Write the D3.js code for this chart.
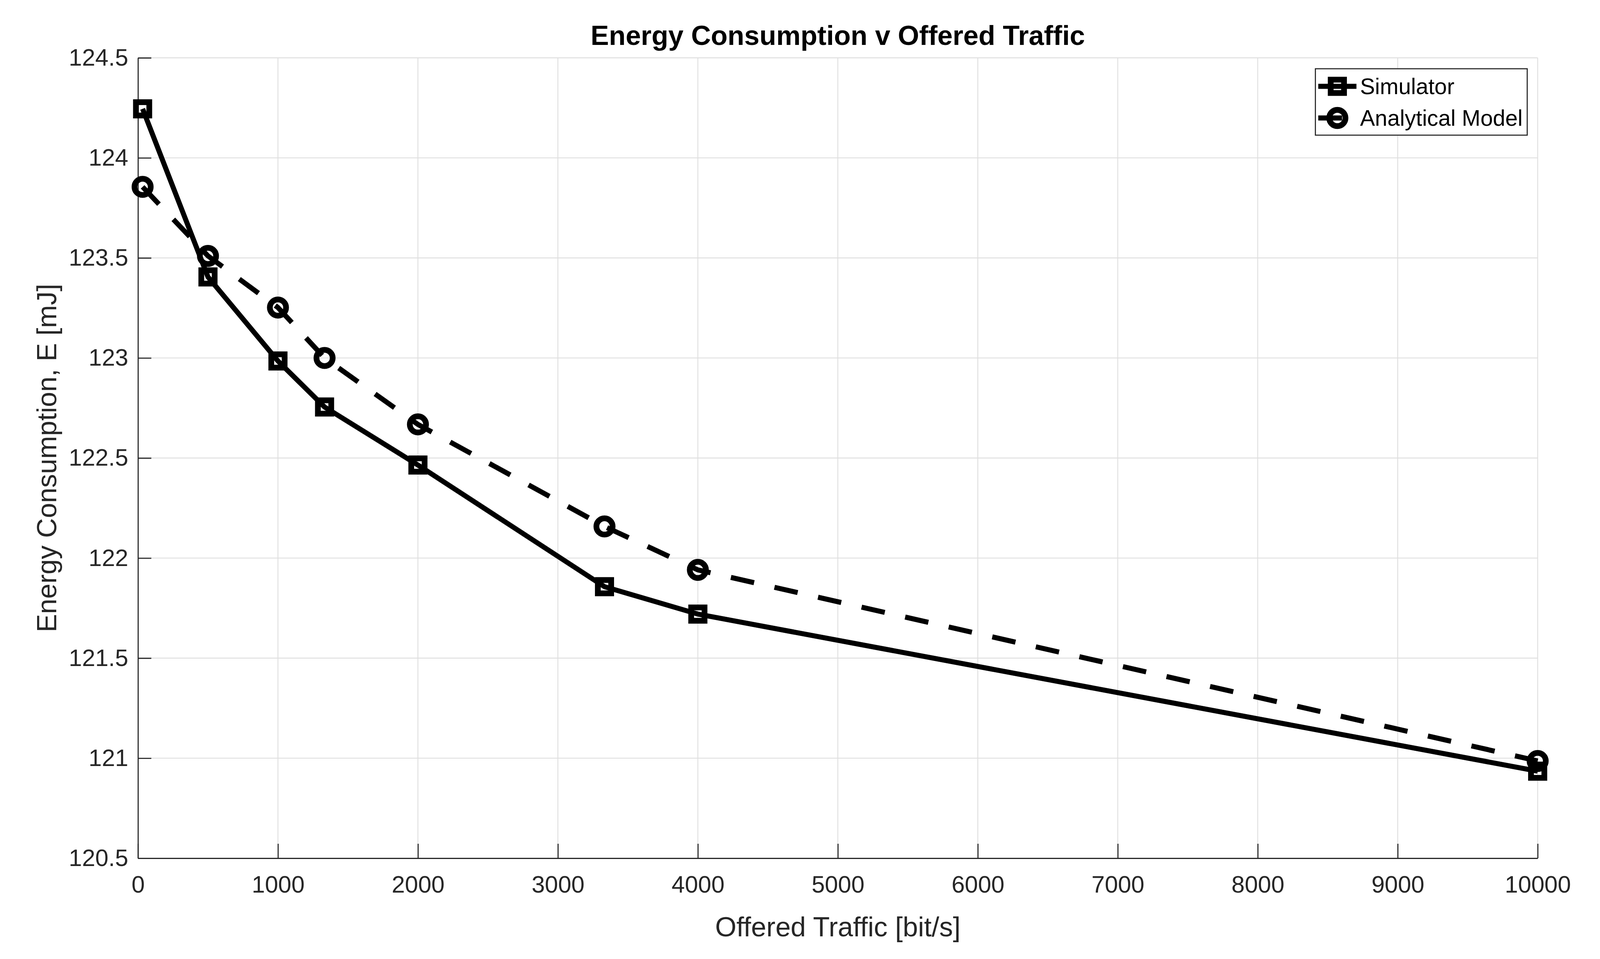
<!DOCTYPE html>
<html>
<head>
<meta charset="utf-8">
<script src="https://cdn.jsdelivr.net/npm/d3@7"></script>
<style>
  html, body { margin: 0; padding: 0; background: #fff; overflow: hidden; }
  svg { display: block; }
  text { font-family: "Liberation Sans", Arial, Helvetica, sans-serif; }
</style>
</head>
<body>
<svg id="chart"></svg>
<script>
  // values
  const traffic = [33, 500, 1000, 1333, 2000, 3333, 4000, 10000];
  const simulator = [124.245, 123.405, 122.985, 122.755, 122.465, 121.857, 121.72, 120.935];
  const analytical = [123.855, 123.51, 123.252, 123.0, 122.668, 122.158, 121.941, 120.986];
  const seriesNames = ["Simulator", "Analytical Model"];
  const xTicks = d3.range(0, 10001, 1000);
  const yTicks = d3.range(120.5, 124.51, 0.5);

  // layout is measured on a 4441x2455 figure and stretched to whatever the window is
  const W = window.innerWidth, H = window.innerHeight;
  const kx = W / 4441, ky = H / 2455;
  const k = kx;
  const margin = { top: 148 * ky, right: 173 * kx, bottom: 258 * ky, left: 383 * kx };
  const width = W - margin.left - margin.right;
  const height = H - margin.top - margin.bottom;
  const axisColor = "#262626";

  const svg = d3.select("#chart").attr("width", W).attr("height", H);
  svg.append("rect").attr("width", W).attr("height", H).attr("fill", "#fff");
  const g = svg.append("g").attr("transform", `translate(${margin.left},${margin.top})`);

  const x = d3.scaleLinear().domain([0, 10000]).range([0, width]);
  const y = d3.scaleLinear().domain([120.5, 124.5]).range([height, 0]);

  // grid
  const grid = g.append("g").attr("stroke", "#dfdfdf").attr("stroke-width", 2.5 * k);
  grid.selectAll(".gx").data(xTicks).join("line")
    .attr("x1", d => x(d)).attr("x2", d => x(d))
    .attr("y1", 0).attr("y2", height);
  grid.selectAll(".gy").data(yTicks).join("line")
    .attr("y1", d => y(d)).attr("y2", d => y(d))
    .attr("x1", 0).attr("x2", width);

  // axes, ticks pointing inwards like matlab
  const xAxis = g.append("g")
    .attr("transform", `translate(0,${height})`)
    .call(d3.axisBottom(x).tickValues(xTicks).tickFormat(d3.format("d"))
      .tickSizeInner(-37 * ky).tickSizeOuter(0).tickPadding(45 * ky));
  const yAxis = g.append("g")
    .call(d3.axisLeft(y).tickValues(yTicks).tickFormat(d => String(+d.toFixed(1)))
      .tickSizeInner(-37 * kx).tickSizeOuter(0).tickPadding(27 * kx));

  [xAxis, yAxis].forEach(a => {
    a.select(".domain").attr("stroke", axisColor).attr("stroke-width", 3 * k);
    a.selectAll(".tick line").attr("stroke", axisColor).attr("stroke-width", 3 * k);
    a.selectAll(".tick text").attr("fill", axisColor).attr("font-size", 66 * k)
      .attr("font-family", "'Liberation Sans', Arial, Helvetica, sans-serif");
  });

  // series
  const line = d3.line().x(d => x(d[0])).y(d => y(d[1]));
  const simData = traffic.map((t, i) => [t, simulator[i]]);
  const anaData = traffic.map((t, i) => [t, analytical[i]]);

  const series = [
    { name: seriesNames[0], data: simData, dash: null, marker: "square" },
    { name: seriesNames[1], data: anaData, dash: `${66 * k},${58 * k}`, marker: "circle" }
  ];

  function drawMarker(sel, kind) {
    if (kind === "square") {
      sel.append("rect").attr("x", -18.5 * k).attr("y", -18.5 * k)
        .attr("width", 37 * k).attr("height", 37 * k);
    } else {
      sel.append("circle").attr("r", 22.5 * k);
    }
    sel.attr("fill", "none").attr("stroke", "#000").attr("stroke-width", 16 * k);
  }

  series.forEach(s => {
    g.append("path").datum(s.data)
      .attr("d", line)
      .attr("fill", "none")
      .attr("stroke", "#000")
      .attr("stroke-width", 14 * k)
      .attr("stroke-dasharray", s.dash);
    g.append("g").selectAll("g").data(s.data).join("g")
      .attr("transform", d => `translate(${x(d[0])},${y(d[1])})`)
      .each(function () { drawMarker(d3.select(this), s.marker); });
  });

  // title and axis labels
  svg.append("text")
    .attr("x", margin.left + width / 2).attr("y", 115 * ky)
    .attr("text-anchor", "middle").attr("font-size", 76 * k).attr("font-weight", "bold")
    .attr("fill", "#000")
    .text("Energy Consumption v Offered Traffic");

  svg.append("text")
    .attr("x", margin.left + width / 2).attr("y", 2397 * ky)
    .attr("text-anchor", "middle").attr("font-size", 76 * k).attr("fill", axisColor)
    .text("Offered Traffic [bit/s]");

  svg.append("text")
    .attr("transform", `translate(${156 * kx},${margin.top + height / 2}) rotate(-90)`)
    .attr("text-anchor", "middle").attr("font-size", 76 * k).attr("fill", axisColor)
    .text("Energy Consumption, E [mJ]");

  // legend
  const legend = svg.append("g").attr("transform", `translate(${3651 * kx},${176 * ky})`);
  legend.append("rect")
    .attr("width", 588 * kx).attr("height", 170 * ky)
    .attr("fill", "#fff").attr("stroke", axisColor).attr("stroke-width", 3 * k);

  series.forEach((s, i) => {
    const row = legend.append("g").attr("transform", `translate(0,${(45 + i * 81) * ky})`);
    row.append("line")
      .attr("x1", 8 * kx).attr("x2", 114 * kx)
      .attr("stroke", "#000").attr("stroke-width", 14 * k)
      .attr("stroke-dasharray", s.dash);
    drawMarker(row.append("g").attr("transform", `translate(${61 * kx},0)`), s.marker);
    row.append("text")
      .attr("x", 124 * kx).attr("dy", "0.35em")
      .attr("font-size", 62 * k).attr("fill", "#000")
      .text(s.name);
  });
</script>
</body>
</html>
